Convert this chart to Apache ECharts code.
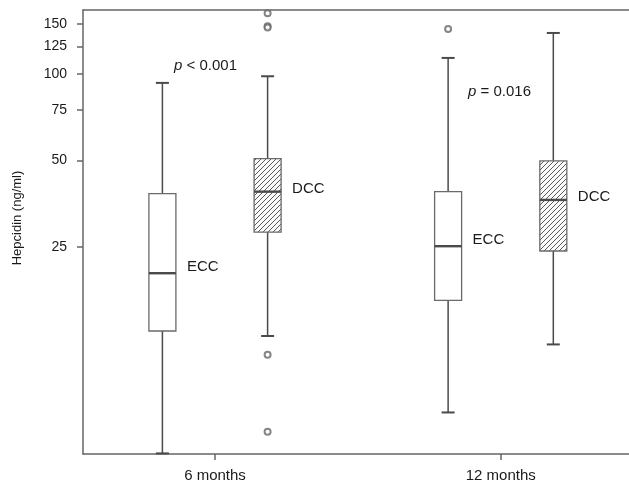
<!DOCTYPE html>
<html>
<head>
<meta charset="utf-8">
<script src="https://cdn.jsdelivr.net/npm/echarts@6/dist/echarts.min.js"></script>
<style>
  html, body { margin: 0; padding: 0; background: #fff; overflow: hidden; }
  #chart { width: 629px; height: 486px; }
</style>
</head>
<body>
<div id="chart"></div>
<script>
// time points (x positions 0 and 1 on the value axis)
const periods = ['6 months', '12 months']
const yTicks = [25, 50, 75, 100, 125, 150]

// box stats per period: [min, Q1, median, Q3, max]
const eccBoxes = [
  [4.75, 12.7, 20.2, 38.3, 93.2],
  [6.6, 16.25, 25.1, 38.9, 113.9]
]
const dccBoxes = [
  [12.2, 28.1, 38.9, 50.7, 98.3],
  [11.4, 24.15, 36.4, 49.8, 139.2]
]

// outliers: [periodIndex, value]
const eccOutliers = [[1, 143.7]]
const dccOutliers = [[0, 163.0], [0, 147.0], [0, 145.5], [0, 10.5], [0, 5.65]]

const pValues = ['< 0.001', '= 0.016']

const LINE = '#4a4a4a'
const AXIS = '#666'
const BOX_OFFSET = 52.6 // px from the period tick to each box centre

// diagonal hatch tile
const makeHatch = () => {
  const s = 5
  const c = document.createElement('canvas')
  c.width = s
  c.height = s
  const ctx = c.getContext('2d')
  ctx.fillStyle = '#fafafa'
  ctx.fillRect(0, 0, s, s)
  ctx.strokeStyle = '#5a5a5a'
  ctx.lineWidth = 1
  for (const k of [-s, 0, s]) {
    ctx.beginPath()
    ctx.moveTo(-1 + k, s + 1)
    ctx.lineTo(s + 1 + k, -1)
    ctx.stroke()
  }
  return c
}
const hatch = makeHatch()

const boxRenderer = (offset, fill, label, labelDy) => (params, api) => {
  const x = api.value(0)
  const lo = api.coord([x, api.value(1)])
  const q1 = api.coord([x, api.value(2)])
  const med = api.coord([x, api.value(3)])
  const q3 = api.coord([x, api.value(4)])
  const hi = api.coord([x, api.value(5)])
  const cx = med[0] + offset
  const hw = 13.5
  const cap = 6.5
  const line = (x1, y1, x2, y2, w) => ({
    type: 'line',
    shape: { x1, y1, x2, y2 },
    style: { stroke: LINE, lineWidth: w || 1.5 }
  })
  return {
    type: 'group',
    children: [
      line(cx, hi[1], cx, q3[1]),
      line(cx, q1[1], cx, lo[1]),
      line(cx - cap, hi[1], cx + cap, hi[1], 2),
      line(cx - cap, lo[1], cx + cap, lo[1], 2),
      {
        type: 'rect',
        shape: { x: cx - hw, y: q3[1], width: hw * 2, height: q1[1] - q3[1] },
        style: { fill, stroke: '#6a6a6a', lineWidth: 1.3 }
      },
      line(cx - hw, med[1], cx + hw, med[1], 2.4),
      {
        type: 'text',
        style: {
          text: label,
          x: cx + hw + 11,
          y: med[1] + labelDy,
          verticalAlign: 'middle',
          font: '15px "Liberation Sans", Arial, sans-serif',
          fill: '#1a1a1a'
        }
      }
    ]
  }
}

const toItems = boxes => boxes.map((b, i) => [i, ...b])

const chart = echarts.init(document.getElementById('chart'), null, { renderer: 'canvas' })

chart.setOption({
  animation: false,
  backgroundColor: '#fff',
  textStyle: { fontFamily: '"Liberation Sans", Arial, sans-serif' },
  grid: {
    left: 83,
    right: -20,
    top: 10,
    bottom: 32,
    outerBoundsMode: 'none',
    containLabel: false,
    show: false
  },
  xAxis: [
    {
      type: 'value',
      min: -0.462,
      max: 1.519,
      splitLine: { show: false },
      axisLine: { show: true, onZero: false, lineStyle: { color: AXIS, width: 1.5 } },
      axisTick: { show: true, length: 6, customValues: [0, 1], lineStyle: { color: AXIS, width: 1.5 } },
      axisLabel: {
        customValues: [0, 1],
        margin: 14,
        fontSize: 15,
        color: '#1a1a1a',
        formatter: v => periods[Math.round(v)] || ''
      }
    },
    {
      // top frame line only
      type: 'value',
      position: 'top',
      min: -0.462,
      max: 1.519,
      splitLine: { show: false },
      axisLine: { show: true, onZero: false, lineStyle: { color: AXIS, width: 1.5 } },
      axisTick: { show: false },
      axisLabel: { show: false }
    }
  ],
  yAxis: {
    type: 'log',
    logBase: 10,
    min: 4.727,
    max: 167.4,
    splitLine: { show: false },
    axisLine: { show: true, onZero: false, lineStyle: { color: AXIS, width: 1.5 } },
    axisTick: { show: true, length: 6, customValues: yTicks, lineStyle: { color: AXIS, width: 1.5 } },
    axisLabel: {
      customValues: yTicks,
      margin: 16,
      fontSize: 14,
      color: '#1a1a1a',
      formatter: v => String(Math.round(v))
    }
  },
  graphic: [
    {
      type: 'text',
      x: 17,
      y: 218,
      rotation: Math.PI / 2,
      style: {
        text: 'Hepcidin (ng/ml)',
        font: '13px "Liberation Sans", Arial, sans-serif',
        fill: '#1a1a1a',
        align: 'center',
        verticalAlign: 'middle'
      }
    },
    {
      type: 'text',
      left: 174,
      top: 58,
      style: {
        text: '{p|p} ' + pValues[0],
        font: '15px "Liberation Sans", Arial, sans-serif',
        fill: '#1a1a1a',
        rich: { p: { fontStyle: 'italic', fontSize: 15 } }
      }
    },
    {
      type: 'text',
      left: 468,
      top: 84,
      style: {
        text: '{p|p} ' + pValues[1],
        font: '15px "Liberation Sans", Arial, sans-serif',
        fill: '#1a1a1a',
        rich: { p: { fontStyle: 'italic', fontSize: 15 } }
      }
    }
  ],
  series: [
    {
      name: 'ECC',
      type: 'custom',
      renderItem: boxRenderer(-BOX_OFFSET, '#fff', 'ECC', -6),
      encode: { x: 0, y: [1, 2, 3, 4, 5] },
      data: toItems(eccBoxes),
      z: 3
    },
    {
      name: 'DCC',
      type: 'custom',
      renderItem: boxRenderer(BOX_OFFSET, { image: hatch, repeat: 'repeat' }, 'DCC', -3),
      encode: { x: 0, y: [1, 2, 3, 4, 5] },
      data: toItems(dccBoxes),
      z: 3
    },
    {
      name: 'ECC outliers',
      type: 'scatter',
      symbol: 'emptyCircle',
      symbolSize: 6,
      symbolOffset: [-BOX_OFFSET, 0],
      itemStyle: { color: '#666', borderColor: '#666', borderWidth: 1.2 },
      data: eccOutliers,
      z: 4
    },
    {
      name: 'DCC outliers',
      type: 'scatter',
      symbol: 'emptyCircle',
      symbolSize: 6,
      symbolOffset: [BOX_OFFSET, 0],
      itemStyle: { color: '#666', borderColor: '#666', borderWidth: 1.2 },
      data: dccOutliers,
      z: 4
    }
  ]
})

window.addEventListener('resize', () => chart.resize())
</script>
</body>
</html>
